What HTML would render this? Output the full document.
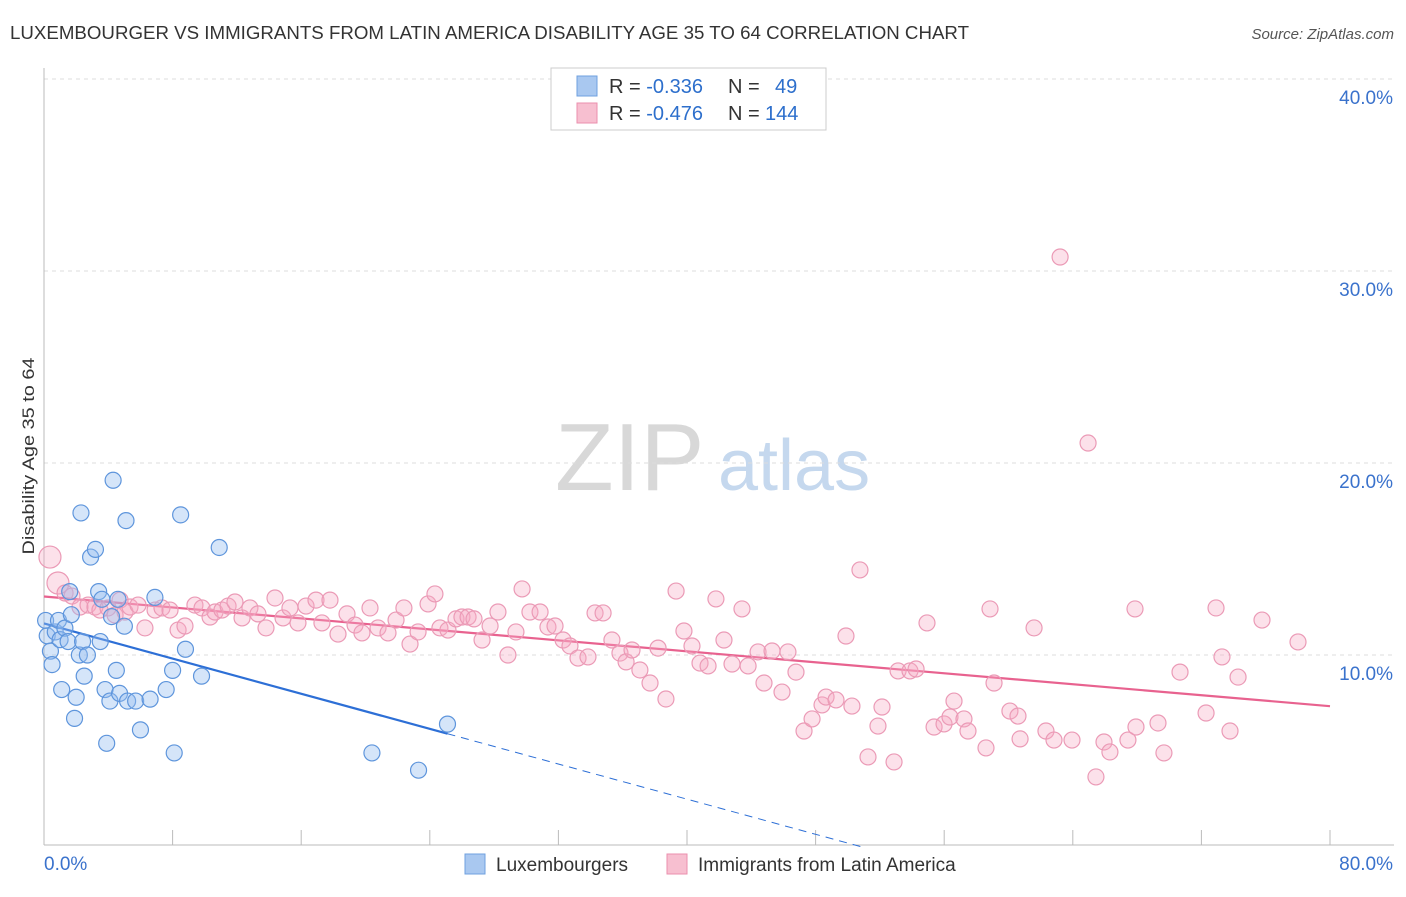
<!DOCTYPE html>
<html><head><meta charset="utf-8"><style>
body{margin:0;background:#fff;font-family:"Liberation Sans",sans-serif;}
svg text{font-family:"Liberation Sans",sans-serif;}
</style></head><body>
<svg id="chart" width="1406" height="892" viewBox="0 0 1406 892" xmlns="http://www.w3.org/2000/svg">
<text x="10" y="39" font-size="18" fill="#333" textLength="959" lengthAdjust="spacingAndGlyphs">LUXEMBOURGER VS IMMIGRANTS FROM LATIN AMERICA DISABILITY AGE 35 TO 64 CORRELATION CHART</text>
<text x="1394" y="39" font-size="15" fill="#555" font-style="italic" text-anchor="end">Source: ZipAtlas.com</text>
<text x="34" y="456" font-size="17" fill="#333" text-anchor="middle" textLength="197" lengthAdjust="spacingAndGlyphs" transform="rotate(-90 34 456)">Disability Age 35 to 64</text>
<g><text x="555" y="490" font-size="96" font-family="Liberation Serif" fill="#d8d8d8">ZIP</text><text x="718" y="490" font-size="72" fill="#c5d8ee">atlas</text></g>
<g id="grid"></g><g id="axes"></g><g id="trends"></g><g id="pts"></g>
<g>
<rect x="551" y="68" width="275" height="62" fill="#fff" stroke="#ccc"/>
<rect x="577" y="76" width="20" height="20" fill="#a9c8f0" stroke="#6fa0df"/>
<rect x="577" y="103" width="20" height="20" fill="#f7bfd0" stroke="#eb8fae"/>
<text x="609" y="93" font-size="20" fill="#333">R = <tspan fill="#2d6fcc">-0.336</tspan><tspan x="728">N = </tspan><tspan x="775" fill="#2d6fcc">49</tspan></text>
<text x="609" y="120" font-size="20" fill="#333">R = <tspan fill="#2d6fcc">-0.476</tspan><tspan x="728">N = </tspan><tspan x="765" fill="#2d6fcc">144</tspan></text>
</g>
<g>
<rect x="465" y="854" width="20" height="20" fill="#a9c8f0" stroke="#6fa0df"/>
<text x="496" y="871" font-size="19" fill="#333">Luxembourgers</text>
<rect x="667" y="854" width="20" height="20" fill="#f7bfd0" stroke="#eb8fae"/>
<text x="698" y="871" font-size="19" fill="#333">Immigrants from Latin America</text>
</g>
</svg>
<script>
const yTicks=[10,20,30,40];
const yTickLabels=["10.0%","20.0%","30.0%","40.0%"];
const xTickLabels=["0.0%","80.0%"];
const blueX=[0.1,0.2,0.4,0.5,0.7,0.9,1.0,1.3,1.6,1.7,1.5,1.9,2.0,2.2,2.4,2.5,2.7,2.9,3.2,3.4,3.5,3.6,3.8,3.9,4.1,4.2,4.3,4.5,4.6,4.7,5.0,5.1,5.2,5.7,6.0,6.6,6.9,7.6,8.0,8.1,8.5,8.8,9.8,10.9,2.3,1.1,20.4,23.3,25.1];
const blueY=[11.8,11.0,10.2,9.5,11.2,11.8,10.8,11.4,13.3,12.1,10.7,6.7,7.8,10.0,10.7,8.9,10.0,15.1,15.5,13.3,10.7,12.9,8.2,5.4,7.6,12.0,19.1,9.2,12.9,8.0,11.5,17.0,7.6,7.6,6.1,7.7,13.0,8.2,9.2,4.9,17.3,10.3,8.9,15.6,17.4,8.2,4.9,4.0,6.4];
const pinkX=[0.37,0.87,1.31,1.74,2.24,2.74,3.17,3.48,3.98,4.42,4.73,5.04,5.35,5.85,6.28,6.91,7.34,7.84,8.34,8.77,9.39,9.83,10.33,10.64,11.07,11.45,11.88,12.32,12.81,13.31,13.81,14.37,14.87,15.3,15.8,16.3,16.92,17.29,17.79,18.29,18.85,19.35,19.78,20.28,20.78,21.4,21.9,22.39,22.77,23.27,23.89,24.32,24.63,25.13,25.63,26.0,26.38,26.75,27.25,27.75,28.24,28.86,29.36,29.74,30.23,30.86,31.35,31.79,32.29,32.72,33.22,33.84,34.28,34.78,35.33,35.83,36.21,36.58,37.07,37.7,38.2,38.69,39.32,39.81,40.31,40.81,41.31,41.8,42.3,42.8,43.42,43.8,44.42,44.79,45.29,45.91,46.28,46.78,47.28,47.78,48.4,48.65,49.27,49.89,50.26,50.76,51.26,51.88,52.13,52.88,53.13,53.87,54.25,54.93,55.37,55.99,56.36,56.61,57.23,57.48,58.6,58.85,59.1,60.09,60.59,60.72,61.59,62.33,62.83,63.21,63.95,64.95,65.44,65.94,66.31,67.43,67.93,67.87,69.3,69.67,70.67,72.29,72.91,73.28,73.78,74.28,75.77,78.01];
const pinkY=[15.1,13.75,13.23,13.07,12.5,12.6,12.5,12.34,12.45,12.08,12.86,12.24,12.5,12.6,11.41,12.34,12.45,12.34,11.3,11.51,12.6,12.45,11.98,12.24,12.34,12.55,12.76,11.93,12.45,12.14,11.41,12.97,11.93,12.45,11.67,12.55,12.86,11.67,12.86,11.09,12.14,11.56,11.15,12.45,11.41,11.15,11.82,12.45,10.57,11.2,12.66,13.18,11.41,11.3,11.88,11.98,11.98,11.88,10.78,11.51,12.24,10.0,11.2,13.44,12.24,12.24,11.46,11.51,10.78,10.47,9.84,9.9,12.19,12.19,10.78,10.1,9.64,10.26,9.22,8.54,10.36,7.71,13.33,11.25,10.47,9.58,9.43,12.92,10.78,9.53,12.4,9.43,10.16,8.54,10.21,8.07,10.16,9.11,6.04,6.67,7.4,7.81,7.66,10.99,7.34,14.43,4.69,6.3,7.29,4.43,9.17,9.17,9.27,11.67,6.25,6.41,6.77,7.6,6.67,6.04,5.16,12.4,8.54,7.08,6.82,5.63,11.41,6.04,5.57,30.73,5.57,21.04,3.65,5.47,4.95,5.57,6.25,12.4,6.46,4.9,9.11,6.98,12.45,9.9,6.04,8.85,11.82,10.68];
const NS="http://www.w3.org/2000/svg";
const X0=44,X1=1330,Y0=847;
function xs(v){return X0+(X1-X0)*v/80;}
function ys(v){return Y0-19.2*v;}
function mk(t,a,p){const e=document.createElementNS(NS,t);for(const k in a)e.setAttribute(k,a[k]);p.appendChild(e);return e;}
const grid=document.getElementById('grid'),axes=document.getElementById('axes'),tr=document.getElementById('trends'),pts=document.getElementById('pts');
yTicks.forEach((t,i)=>{
 const l=mk('line',{x1:44,x2:1394,y1:ys(t),y2:ys(t),stroke:'#ddd','stroke-dasharray':'4,4'},grid);
 
 
 const tx=mk('text',{x:1393,y:ys(t)+25,'font-size':19,fill:'#3a72cc','text-anchor':'end'},axes);
 tx.textContent=yTickLabels[i];
 
 
});
const ax=mk('line',{x1:44,x2:1394,y1:845,y2:845,stroke:'#bbb'},axes);


const ay=mk('line',{x1:44,x2:44,y1:68,y2:845,stroke:'#bbb'},axes);


for(let i=0;i<=10;i++){const v=i*8;
 const t=mk('line',{x1:xs(v),x2:xs(v),y1:830,y2:845,stroke:'#bbb'},axes);
 
 }
[[0,'start',44],[80,'end',1393]].forEach((d,i)=>{
 const t=mk('text',{x:d[2],y:870,'font-size':19,fill:'#3a72cc','text-anchor':d[1]},axes);
 t.textContent=xTickLabels[i];
 
 });
function fit(X,Y){const n=X.length;let mx=0,my=0;X.forEach((v,i)=>{mx+=v;my+=Y[i]});mx/=n;my/=n;let sxy=0,sxx=0;X.forEach((v,i)=>{sxy+=(v-mx)*(Y[i]-my);sxx+=(v-mx)**2});const b=sxy/sxx;return [my-b*mx,b];}
const bf=fit(blueX,blueY),pf=fit(pinkX,pinkY);
const bmax=Math.max(...blueX);
const b1=mk('line',{x1:xs(0),y1:ys(bf[0]),x2:xs(bmax),y2:ys(bf[0]+bf[1]*bmax),stroke:'#2d6fd6','stroke-width':2.2},tr);


const xe=Math.min(80,-bf[0]/bf[1]);
const b2=mk('line',{x1:xs(bmax),y1:ys(bf[0]+bf[1]*bmax),x2:xs(xe),y2:ys(bf[0]+bf[1]*xe),stroke:'#2d6fd6','stroke-width':1,'stroke-dasharray':'8,6'},tr);


const p1=mk('line',{x1:xs(0),y1:ys(pf[0]),x2:xs(80),y2:ys(pf[0]+pf[1]*80),stroke:'#e8628f','stroke-width':2.2},tr);


pinkX.forEach((x,i)=>{const c=mk('circle',{cx:xs(x),cy:ys(pinkY[i]),r:(x<1?11:8),fill:'rgba(245,170,195,0.35)',stroke:'#eb9ab6','stroke-width':1.2},pts);
 
 });
blueX.forEach((x,i)=>{const c=mk('circle',{cx:xs(x),cy:ys(blueY[i]),r:8,fill:'rgba(150,190,240,0.4)',stroke:'#5e95dc','stroke-width':1.2},pts);
 
 });
</script>
</body></html>
